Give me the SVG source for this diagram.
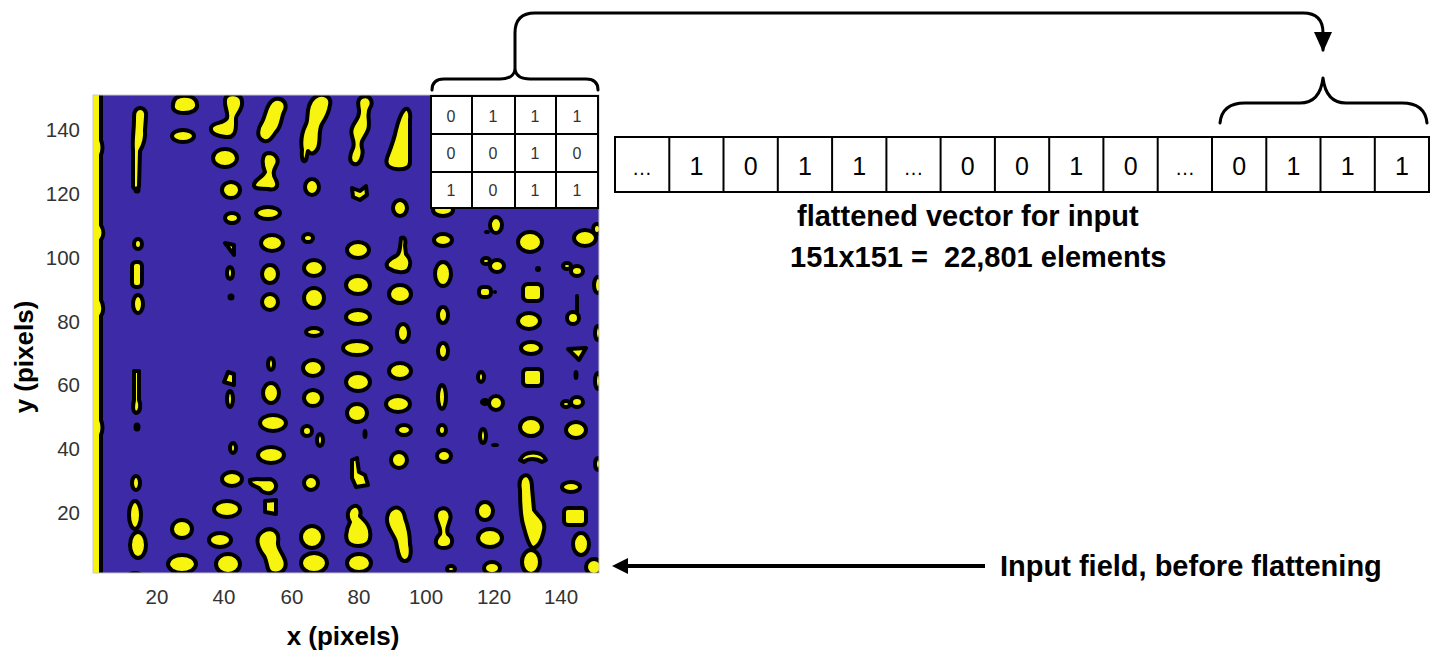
<svg xmlns="http://www.w3.org/2000/svg" width="1439" height="658" viewBox="0 0 1439 658">
  <style>
    .b { fill: #f7f50f; stroke: #000; stroke-width: 4; stroke-linejoin: round; }
    .k { fill: #000; }
    .tick { font-family: "Liberation Sans", Arial, sans-serif; font-size: 20.5px; fill: #333; }
    .axis { font-family: "Liberation Sans", Arial, sans-serif; font-size: 26px; font-weight: bold; fill: #000; }
    .label { font-family: "Liberation Sans", Arial, sans-serif; font-size: 29px; font-weight: bold; fill: #000; white-space: pre; }
    .cell { fill: #fff; stroke: #000; stroke-width: 2; }
    .vdigit { font-family: "Liberation Sans", Arial, sans-serif; font-size: 25px; fill: #000; text-anchor: middle; }
    .gdigit { font-family: "Liberation Sans", Arial, sans-serif; font-size: 16px; fill: #333; text-anchor: middle; }
    .wire { fill: none; stroke: #000; stroke-width: 3; stroke-linecap: round; stroke-linejoin: round; }
  </style>
  <defs>
    <clipPath id="plotClip"><rect x="93" y="95" width="506" height="478"/></clipPath>
    <marker id="headDown" viewBox="0 0 20 18" refX="18" refY="9" markerWidth="20" markerHeight="18" markerUnits="userSpaceOnUse" orient="auto">
      <path d="M0,0 L20,9 L0,18 Z" fill="#000"/>
    </marker>
  </defs>

  <rect width="1439" height="658" fill="#fff"/>

  <!-- Binary field plot -->
  <g id="field">
    <rect x="93" y="95" width="506" height="478" fill="#3c2aa6"/>
    <g clip-path="url(#plotClip)">
      <!-- left edge strip -->
      <path class="b" d="M88,92 L101,92 L101,140 C103,145 103,150 101,155 L101,225 C104,230 104,236 101,240 L101,300 C104,305 104,312 101,316 L101,420 C103,425 103,430 101,435 L101,575 L88,575 Z"/>
      <!-- column near x=14 -->
      <path class="b" d="M137,109 C142,106 147,110 146,117 L145,130 C146,140 143,146 140,151 L139,186 C139,190 133,190 133,186 L133,150 C132,140 134,130 134,120 C134,114 134,111 137,109 Z"/>
      <circle class="k" cx="137" cy="190" r="3.5"/>
      <ellipse class="b" cx="138" cy="244" rx="4" ry="5"/>
      <rect class="b" x="132" y="262" width="10" height="25" rx="4"/>
      <ellipse class="b" cx="138" cy="304" rx="5" ry="9"/>
      <path class="b" d="M134,371 L139,371 L139,400 C141,404 141,412 136,413 C132,412 133,405 134,400 Z"/>
      <ellipse class="k" cx="137" cy="427" rx="3.5" ry="4.5"/>
      <ellipse class="b" cx="136" cy="483" rx="4" ry="7"/>
      <ellipse class="b" cx="135" cy="515" rx="6" ry="14"/>
      <ellipse class="b" cx="138" cy="545" rx="8" ry="13"/>
      <ellipse class="k" cx="135" cy="575" rx="8" ry="4"/>
      <!-- column near x=28 -->
      <path class="b" d="M176,98 C182,94 196,95 197,104 C198,110 192,113 184,113 C176,113 172,110 173,105 C173,102 174,100 176,98 Z"/>
      <ellipse class="b" cx="183" cy="136" rx="11" ry="6"/>
      <ellipse class="b" cx="182" cy="529" rx="10" ry="9"/>
      <ellipse class="b" cx="182" cy="564" rx="14" ry="9"/>
      <!-- column near x=41 -->
      <path class="b" d="M226,97 C230,92 242,94 242,102 C243,110 236,114 236,118 L236,124 C236,132 234,138 226,137 C218,136 210,134 211,128 C212,122 224,124 227,118 C229,112 222,104 226,97 Z"/>
      <ellipse class="b" cx="225" cy="158" rx="12" ry="9"/>
      <ellipse class="b" cx="231" cy="190" rx="9" ry="8"/>
      <ellipse class="b" cx="232" cy="218" rx="7" ry="5"/>
      <path class="b" d="M225,243 L234,245 L234,255 Z"/>
      <ellipse class="b" cx="230" cy="273" rx="3" ry="6"/>
      <circle class="k" cx="231" cy="297" r="3.5"/>
      <path class="b" d="M228,372 L234,374 L234,385 L224,382 Z"/>
      <ellipse class="b" cx="230" cy="399" rx="3" ry="8"/>
      <ellipse class="b" cx="233" cy="448" rx="3" ry="5"/>
      <ellipse class="b" cx="232" cy="479" rx="10" ry="7"/>
      <ellipse class="b" cx="227" cy="509" rx="13" ry="8"/>
      <ellipse class="b" cx="220" cy="540" rx="11" ry="7"/>
      <ellipse class="b" cx="228" cy="564" rx="12" ry="10"/>
      <!-- column near x=53 -->
      <path class="b" d="M275,99 C284,97 288,105 284,112 C281,118 282,126 276,132 C272,138 268,144 262,140 C256,136 258,128 262,122 C266,115 266,103 275,99 Z"/>
      <path class="b" d="M268,153 C276,153 280,160 276,166 C274,170 272,174 276,180 C279,186 276,191 268,189 C262,188 256,190 254,186 C253,180 262,178 265,172 C262,165 261,154 268,153 Z"/>
      <ellipse class="b" cx="268" cy="213" rx="12" ry="6"/>
      <ellipse class="b" cx="272" cy="243" rx="11" ry="8"/>
      <ellipse class="b" cx="270" cy="274" rx="8" ry="9"/>
      <ellipse class="b" cx="270" cy="302" rx="8" ry="8"/>
      <ellipse class="b" cx="271" cy="364" rx="3" ry="6"/>
      <ellipse class="b" cx="271" cy="393" rx="8" ry="10"/>
      <ellipse class="b" cx="273" cy="423" rx="13" ry="8"/>
      <ellipse class="b" cx="271" cy="455" rx="13" ry="8"/>
      <path class="b" d="M250,480 C256,478 262,480 268,479 C276,479 278,487 274,491 C270,495 262,493 259,488 C255,486 249,485 250,480 Z"/>
      <path class="b" d="M265,501 L276,500 L276,514 L265,512 Z"/>
      <path class="b" d="M262,532 C270,526 280,530 278,542 C277,548 282,552 285,560 C288,570 280,575 272,573 C266,572 268,562 264,556 C258,548 254,538 262,532 Z"/>
      <!-- column near x=66 -->
      <path class="b" d="M315,97 C322,92 332,96 330,105 C329,112 326,118 322,124 C318,132 321,140 318,148 C315,154 311,155 308,151 L306,160 C304,163 301,161 302,150 C300,140 303,130 306,124 C309,118 305,105 315,97 Z"/>
      <ellipse class="b" cx="312" cy="187" rx="7" ry="8"/>
      <ellipse class="b" cx="308" cy="238" rx="5" ry="4"/>
      <ellipse class="b" cx="314" cy="268" rx="10" ry="8"/>
      <ellipse class="b" cx="314" cy="298" rx="10" ry="10"/>
      <ellipse class="b" cx="314" cy="332" rx="8" ry="4"/>
      <ellipse class="b" cx="313" cy="368" rx="10" ry="8"/>
      <ellipse class="b" cx="313" cy="398" rx="9" ry="8"/>
      <ellipse class="b" cx="307" cy="431" rx="5" ry="5"/>
      <ellipse class="b" cx="320" cy="440" rx="3" ry="6"/>
      <ellipse class="b" cx="311" cy="483" rx="7" ry="7"/>
      <ellipse class="b" cx="312" cy="537" rx="11" ry="11"/>
      <ellipse class="b" cx="314" cy="563" rx="13" ry="10"/>
      <!-- column near x=80 -->
      <path class="b" d="M362,97 C370,94 374,102 370,108 C366,114 371,122 368,130 C365,138 360,140 362,148 C364,155 360,166 354,164 C348,162 350,154 353,148 C356,140 349,136 352,128 C355,120 360,118 359,110 C358,104 357,99 362,97 Z"/>
      <path class="b" d="M352,188 L360,191 L366,186 L367,195 L360,200 L353,197 Z"/>
      <ellipse class="b" cx="358" cy="250" rx="11" ry="8"/>
      <ellipse class="b" cx="358" cy="285" rx="12" ry="9"/>
      <ellipse class="b" cx="358" cy="317" rx="12" ry="7"/>
      <ellipse class="b" cx="357" cy="348" rx="14" ry="7"/>
      <ellipse class="b" cx="358" cy="382" rx="12" ry="9"/>
      <ellipse class="b" cx="357" cy="413" rx="10" ry="9"/>
      <ellipse class="k" cx="365" cy="434" rx="2.5" ry="5"/>
      <path class="b" d="M352,460 L357,458 L359,472 L365,475 L368,485 L356,487 L352,478 Z"/>
      <path class="b" d="M352,507 C358,503 362,510 360,516 C364,520 372,526 370,538 C369,546 358,548 350,544 C344,540 346,530 350,522 C346,516 348,509 352,507 Z"/>
      <ellipse class="b" cx="359" cy="563" rx="12" ry="9"/>
      <!-- column near x=93 -->
      <path class="b" d="M404,110 C408,106 411,112 410,120 L410,162 C410,168 404,170 396,169 C388,168 385,164 387,158 C390,150 394,140 396,130 C398,122 400,114 404,110 Z"/>
      <ellipse class="b" cx="400" cy="208" rx="7" ry="8"/>
      <path class="b" d="M401,238 C405,236 406,240 405,246 L406,254 C410,258 412,264 408,270 C404,274 394,272 388,268 C384,264 390,258 396,256 C400,254 400,248 401,238 Z"/>
      <ellipse class="b" cx="400" cy="294" rx="11" ry="9"/>
      <ellipse class="b" cx="403" cy="333" rx="6" ry="9"/>
      <ellipse class="b" cx="400" cy="371" rx="11" ry="8"/>
      <ellipse class="b" cx="398" cy="404" rx="12" ry="8"/>
      <ellipse class="b" cx="404" cy="430" rx="7" ry="5"/>
      <ellipse class="b" cx="399" cy="460" rx="8" ry="8"/>
      <path class="b" d="M392,509 C398,505 404,510 405,518 C408,526 410,534 410,544 C412,554 410,562 404,561 C398,560 398,550 396,542 C394,534 386,528 387,518 C388,512 390,510 392,509 Z"/>
      <!-- column near x=105 -->
      <ellipse class="b" cx="443" cy="210" rx="10" ry="6"/>
      <ellipse class="b" cx="443" cy="240" rx="9" ry="6"/>
      <ellipse class="b" cx="443" cy="274" rx="8" ry="12"/>
      <ellipse class="b" cx="443" cy="315" rx="5" ry="8"/>
      <ellipse class="b" cx="443" cy="351" rx="5" ry="8"/>
      <ellipse class="b" cx="442" cy="397" rx="4" ry="12"/>
      <ellipse class="b" cx="442" cy="430" rx="4" ry="5"/>
      <ellipse class="b" cx="444" cy="456" rx="7" ry="6"/>
      <path class="b" d="M440,509 C448,506 452,514 450,520 C448,526 446,530 448,534 C454,538 454,548 444,548 C434,548 434,540 440,534 C442,528 436,522 436,516 C436,512 438,510 440,509 Z"/>
      <ellipse class="b" cx="451" cy="569" rx="4" ry="3"/>
      <!-- column near x=119 -->
      <ellipse class="b" cx="496" cy="225" rx="6" ry="8"/>
      <ellipse class="k" cx="487" cy="232" rx="3" ry="2"/>
      <ellipse class="b" cx="486" cy="261" rx="4" ry="3"/>
      <ellipse class="b" cx="497" cy="266" rx="7" ry="6"/>
      <rect class="b" x="479" y="287" width="12" height="10" rx="4"/>
      <circle class="k" cx="495" cy="292" r="2"/>
      <ellipse class="b" cx="481" cy="377" rx="3" ry="5"/>
      <ellipse class="b" cx="485" cy="402" rx="3" ry="2"/>
      <ellipse class="b" cx="496" cy="403" rx="7" ry="7"/>
      <ellipse class="b" cx="483" cy="436" rx="3" ry="7"/>
      <ellipse class="k" cx="495" cy="445" rx="4" ry="2"/>
      <ellipse class="b" cx="485" cy="511" rx="8" ry="9"/>
      <ellipse class="b" cx="490" cy="538" rx="12" ry="9"/>
      <ellipse class="b" cx="492" cy="568" rx="8" ry="6"/>
      <!-- column near x=131 -->
      <ellipse class="b" cx="530" cy="242" rx="12" ry="10"/>
      <circle class="k" cx="538" cy="269" r="3"/>
      <rect class="b" x="523" y="284" width="19" height="17" rx="5"/>
      <ellipse class="b" cx="529" cy="321" rx="11" ry="8"/>
      <ellipse class="b" cx="531" cy="348" rx="10" ry="6"/>
      <rect class="b" x="523" y="369" width="19" height="17" rx="4"/>
      <ellipse class="b" cx="531" cy="427" rx="11" ry="9"/>
      <path class="b" d="M520,460 C524,450 542,450 546,460 L542,462 C536,458 528,458 524,462 Z"/>
      <path class="b" d="M522,477 C528,472 532,478 532,488 L534,510 C538,516 546,520 544,530 C542,540 538,548 532,548 C528,544 526,536 524,528 C520,516 520,500 520,490 C519,484 520,479 522,477 Z"/>
      <ellipse class="b" cx="531" cy="562" rx="9" ry="12"/>
      <!-- column near x=144 and right edge -->
      <ellipse class="b" cx="585" cy="238" rx="11" ry="8"/>
      <ellipse class="b" cx="597" cy="229" rx="4" ry="5"/>
      <ellipse class="b" cx="567" cy="266" rx="4" ry="3"/>
      <ellipse class="b" cx="577" cy="271" rx="6" ry="5"/>
      <ellipse class="b" cx="598" cy="285" rx="4" ry="8"/>
      <rect class="k" x="575" y="294" width="4" height="22" rx="2"/>
      <ellipse class="b" cx="573" cy="318" rx="6" ry="6"/>
      <ellipse class="b" cx="598" cy="333" rx="3" ry="7"/>
      <path class="b" d="M568,349 L586,348 L579,360 Z"/>
      <ellipse class="k" cx="576" cy="375" rx="2.5" ry="5"/>
      <ellipse class="b" cx="598" cy="381" rx="3" ry="8"/>
      <ellipse class="b" cx="566" cy="404" rx="4" ry="3"/>
      <ellipse class="b" cx="577" cy="402" rx="6" ry="5"/>
      <ellipse class="b" cx="576" cy="430" rx="10" ry="8"/>
      <ellipse class="b" cx="598" cy="464" rx="3" ry="6"/>
      <ellipse class="b" cx="571" cy="487" rx="9" ry="5"/>
      <rect class="b" x="564" y="508" width="22" height="17" rx="4"/>
      <ellipse class="b" cx="581" cy="544" rx="8" ry="11"/>
      <ellipse class="b" cx="594" cy="567" rx="8" ry="8"/>
    </g>
    <rect x="93" y="95" width="506" height="478" fill="none" stroke="#c8c8c8" stroke-width="1"/>
  </g>

  <!-- Axis ticks and labels -->
  <g id="axes">
    <text class="tick" text-anchor="end" x="80" y="137">140</text>
    <text class="tick" text-anchor="end" x="80" y="201">120</text>
    <text class="tick" text-anchor="end" x="80" y="265">100</text>
    <text class="tick" text-anchor="end" x="80" y="329">80</text>
    <text class="tick" text-anchor="end" x="80" y="392">60</text>
    <text class="tick" text-anchor="end" x="80" y="456">40</text>
    <text class="tick" text-anchor="end" x="80" y="520">20</text>
    <text class="tick" text-anchor="middle" x="157" y="604">20</text>
    <text class="tick" text-anchor="middle" x="224" y="604">40</text>
    <text class="tick" text-anchor="middle" x="292" y="604">60</text>
    <text class="tick" text-anchor="middle" x="359" y="604">80</text>
    <text class="tick" text-anchor="middle" x="426" y="604">100</text>
    <text class="tick" text-anchor="middle" x="494" y="604">120</text>
    <text class="tick" text-anchor="middle" x="561" y="604">140</text>
    <text class="axis" text-anchor="middle" x="343" y="645">x (pixels)</text>
    <text class="axis" text-anchor="middle" transform="translate(33,357) rotate(-90)">y (pixels)</text>
  </g>

  <!-- Sub-window of the field, 3 x 4 cells -->
  <g id="window">
    <rect class="cell" x="431" y="96" width="167" height="112"/>
    <path d="M472,96 V208 M515,96 V208 M556,96 V208 M431,134 H598 M431,172 H598" stroke="#000" stroke-width="2" fill="none"/>
    <text class="gdigit" x="451" y="122">0</text>
    <text class="gdigit" x="493" y="122">1</text>
    <text class="gdigit" x="535" y="122">1</text>
    <text class="gdigit" x="577" y="122">1</text>
    <text class="gdigit" x="451" y="159">0</text>
    <text class="gdigit" x="493" y="159">0</text>
    <text class="gdigit" x="535" y="159">1</text>
    <text class="gdigit" x="577" y="159">0</text>
    <text class="gdigit" x="451" y="196">1</text>
    <text class="gdigit" x="493" y="196">0</text>
    <text class="gdigit" x="535" y="196">1</text>
    <text class="gdigit" x="577" y="196">1</text>
  </g>

  <!-- Flattened vector -->
  <g id="vector">
    <rect class="cell" x="615" y="137" width="814" height="55"/>
    <path d="M669.3,137 V192 M723.5,137 V192 M777.8,137 V192 M832.1,137 V192 M886.4,137 V192 M940.6,137 V192 M994.9,137 V192 M1049.2,137 V192 M1103.4,137 V192 M1157.7,137 V192 M1212,137 V192 M1266.3,137 V192 M1320.5,137 V192 M1374.8,137 V192" stroke="#000" stroke-width="2" fill="none"/>
    <text class="vdigit" x="642.1" y="175" style="font-size:20px">…</text>
    <text class="vdigit" x="696.4" y="175">1</text>
    <text class="vdigit" x="750.7" y="175">0</text>
    <text class="vdigit" x="805" y="175">1</text>
    <text class="vdigit" x="859.2" y="175">1</text>
    <text class="vdigit" x="913.5" y="175" style="font-size:20px">…</text>
    <text class="vdigit" x="967.8" y="175">0</text>
    <text class="vdigit" x="1022" y="175">0</text>
    <text class="vdigit" x="1076.3" y="175">1</text>
    <text class="vdigit" x="1130.6" y="175">0</text>
    <text class="vdigit" x="1184.9" y="175" style="font-size:20px">…</text>
    <text class="vdigit" x="1239.1" y="175">0</text>
    <text class="vdigit" x="1293.4" y="175">1</text>
    <text class="vdigit" x="1347.7" y="175">1</text>
    <text class="vdigit" x="1401.9" y="175">1</text>
  </g>

  <g id="caption">
    <text class="label" x="797" y="226">flattened vector for input</text>
    <text class="label" x="790" y="267">151x151 =  22,801 elements</text>
  </g>

  <g id="field-label">
    <text class="label" x="1000" y="576">Input field, before flattening</text>
  </g>

  <!-- Connectors: braces, the mapping arrow and the pointer to the field -->
  <g id="connectors">
    <path class="wire" d="M432,90 Q432,79 444,79 L500,79 Q513,79 515,70 Q517,79 530,79 L586,79 Q598,79 598,90"/>
    <path class="wire" d="M515,70 L515,33 Q515,13 535,13 L1303,13 Q1323,13 1323,33 L1323,50" marker-end="url(#headDown)"/>
    <path class="wire" d="M1220,123 Q1222,103 1245,103 L1300,103 Q1320,103 1323,78 Q1326,103 1346,103 L1402,103 Q1425,103 1427,123"/>
    <line x1="985" y1="566" x2="625" y2="566" stroke="#000" stroke-width="4"/>
    <path d="M612,566 L628,558 L628,574 Z" fill="#000"/>
  </g>
</svg>
